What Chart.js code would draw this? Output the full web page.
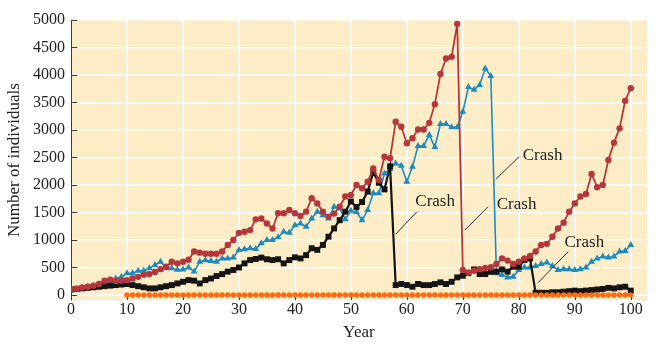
<!DOCTYPE html>
<html><head><meta charset="utf-8">
<script src="https://cdn.jsdelivr.net/npm/chart.js@4/dist/chart.umd.min.js"></script>
<style>html,body{margin:0;padding:0;background:#fff;}</style>
</head><body>
<canvas id="c" width="666" height="350"></canvas>
<script>
const years = [0,1,2,3,4,5,6,7,8,9,10,11,12,13,14,15,16,17,18,19,20,21,22,23,24,25,26,27,28,29,30,31,32,33,34,35,36,37,38,39,40,41,42,43,44,45,46,47,48,49,50,51,52,53,54,55,56,57,58,59,60,61,62,63,64,65,66,67,68,69,70,71,72,73,74,75,76,77,78,79,80,81,82,83,84,85,86,87,88,89,90,91,92,93,94,95,96,97,98,99,100];

const redSeries = [100,115,135,150,170,200,260,280,255,260,270,300,330,370,380,420,470,515,605,575,
 605,640,790,770,750,750,750,790,910,1000,1130,1150,1180,1375,1390,1300,1210,1485,1485,1545,
 1485,1435,1515,1760,1665,1515,1425,1480,1605,1790,1820,2000,1940,2060,2300,2090,2515,2485,3150,3060,
 2760,2850,3010,3010,3130,3470,4020,4300,4330,4930,455,410,440,470,490,505,565,665,625,565,
 605,665,710,790,910,930,1060,1210,1315,1515,1665,1790,1835,2200,1960,2000,2455,2770,3030,3530,3760];

const blueSeries = [100,110,125,140,160,180,200,230,300,330,395,395,440,440,485,545,605,485,485,460,
 465,500,425,605,630,620,605,665,665,680,820,830,850,835,940,1000,1000,1050,1150,1130,
 1270,1300,1240,1390,1515,1450,1390,1605,1575,1375,1530,1510,1360,1545,1850,1850,2210,2290,2390,2350,
 2060,2330,2710,2710,2910,2690,3110,3110,3050,3050,3330,3780,3730,3820,4120,3980,395,365,320,330,
 455,500,500,525,565,590,525,455,470,470,455,470,500,605,665,700,680,700,790,800,910];

const blackSeries = [100,110,120,130,140,150,160,170,180,190,200,180,160,140,120,120,140,160,180,210,
 240,270,260,210,270,300,345,380,425,455,500,575,635,655,680,650,635,650,575,635,
 685,665,725,850,820,910,1060,1210,1360,1515,1700,1600,1690,1880,2230,2040,1920,2340,180,200,
 180,150,200,180,180,200,230,200,240,320,350,400,465,380,380,420,425,465,425,515,
 515,635,665,40,40,40,50,50,60,70,80,70,80,90,100,110,130,120,140,150,80];

const orangeSeries = [null,null,null,null,null,null,null,null,null,null,
 0,0,0,0,0,0,0,0,0,0,0,0,0,0,0,0,0,0,0,0,0,0,0,0,0,0,0,0,0,0,
 0,0,0,0,0,0,0,0,0,0,0,0,0,0,0,0,0,0,0,0,0,0,0,0,0,0,0,0,0,0,
 0,0,0,0,0,0,0,0,0,0,0,0,0,0,0,0,0,0,0,0,0,0,0,0,0,0,0,0,0,0,0];

const xTicks = [0,10,20,30,40,50,60,70,80,90,100];
const yTicks = [0,500,1000,1500,2000,2500,3000,3500,4000,4500,5000];

const noteLabel = 'Crash';
const noteTextPos = [[65.05,1696],[79.6,1636],[84.25,2533],[91.7,951]];
const noteLineFrom = [[58.0,1104],[70.4,1182],[75.9,2104],[83.45,224]];
const noteLineTo = [[61.8,1515],[74.5,1605],[80.05,2515],[88.8,787]];

const SERIF = '"Liberation Serif", "DejaVu Serif", serif';
const BG = '#FDEDC6';

const pts = arr => years.map((x,i)=>({x, y: arr[i]}));

const bgPlugin = {
  id:'bgp',
  beforeDraw(chart){
    const {ctx, chartArea:a} = chart;
    ctx.save(); ctx.fillStyle = BG;
    ctx.fillRect(a.left, a.top, a.right-a.left, a.bottom-a.top);
    ctx.restore();
  },
  beforeDatasetsDraw(chart){
    const {ctx, chartArea:a, scales:{x, y}} = chart;
    ctx.save(); ctx.strokeStyle = '#3a3a3a'; ctx.lineWidth = 1;
    ctx.beginPath();
    yTicks.forEach(v => { const py = Math.round(y.getPixelForValue(v))+0.5; ctx.moveTo(a.left, py); ctx.lineTo(a.left+6, py); });
    xTicks.forEach(v => { if (v===0) return; const px = Math.round(x.getPixelForValue(v))+0.5; ctx.moveTo(px, a.bottom); ctx.lineTo(px, a.bottom-5); });
    ctx.stroke(); ctx.restore();
  },
  afterDatasetsDraw(chart){
    const {ctx, scales:{x, y}} = chart;
    ctx.save();
    ctx.strokeStyle = '#2b2b3a'; ctx.lineWidth = 1;
    ctx.beginPath();
    noteLineFrom.forEach((f,i)=>{
      const t = noteLineTo[i];
      ctx.moveTo(x.getPixelForValue(f[0]), y.getPixelForValue(f[1]));
      ctx.lineTo(x.getPixelForValue(t[0]), y.getPixelForValue(t[1]));
    });
    ctx.stroke();
    ctx.fillStyle = '#222'; ctx.font = '17px ' + SERIF; ctx.textAlign='center'; ctx.textBaseline='middle';
    noteTextPos.forEach(p => ctx.fillText(noteLabel, x.getPixelForValue(p[0]), y.getPixelForValue(p[1])));
    ctx.restore();
  }
};

new Chart(document.getElementById('c'), {
  type:'line',
  data:{datasets:[
    {label:'orange', data: pts(orangeSeries), borderColor:'#FF6A10', backgroundColor:'#FF6A10', borderWidth:1.5, pointRadius:2.7, pointStyle:'circle', pointBorderWidth:0, order:0},
    {label:'red', data: pts(redSeries), borderColor:'#B5363B', backgroundColor:'#B5363B', borderWidth:1.8, pointRadius:3.2, pointStyle:'circle', pointBorderWidth:0, order:1},
    {label:'black', data: pts(blackSeries), borderColor:'#141414', backgroundColor:'#141414', borderWidth:2.2, pointRadius:4.2, pointStyle:'rect', pointBorderWidth:0, order:2},
    {label:'blue', data: pts(blueSeries), borderColor:'#1C8BBF', backgroundColor:'#1C8BBF', borderWidth:1.6, pointRadius:4, pointStyle:'triangle', pointBorderWidth:0, order:3}
  ]},
  options:{
    responsive:false, animation:false, devicePixelRatio:1,
    layout:{padding:{top:20, right:19, left:0, bottom:0}},
    plugins:{legend:{display:false}, tooltip:{enabled:false}},
    elements:{line:{tension:0}},
    scales:{
      x:{type:'linear', min:0, max:102.9,
        afterBuildTicks: s => { s.ticks = xTicks.map(v=>({value:v})); },
        afterFit: s => { s.height = 50; },
        grid:{color:'#ffffff', lineWidth:1.5, drawTicks:false},
        border:{display:false},
        ticks:{padding:0, color:'#222', font:{family:SERIF, size:16}, maxRotation:0, autoSkip:false, callback: v => String(v)},
        title:{display:true, text:'Year', color:'#222', font:{family:SERIF, size:17}, padding:{top:0, bottom:7}}
      },
      y:{type:'linear', min:-91, max:5000,
        afterBuildTicks: s => { s.ticks = yTicks.map(v=>({value:v})); },
        afterFit: s => { s.width = 71; },
        grid:{color:'#ffffff', lineWidth:1.5, drawTicks:false},
        border:{display:true, color:'#3a3a3a', width:1},
        ticks:{padding:6, color:'#222', font:{family:SERIF, size:16}, autoSkip:false, callback: v => String(v)},
        title:{display:true, text:'Number of individuals', color:'#222', font:{family:SERIF, size:17}, padding:{top:4, bottom:0}}
      }
    }
  },
  plugins:[bgPlugin]
});
</script>
</body></html>
